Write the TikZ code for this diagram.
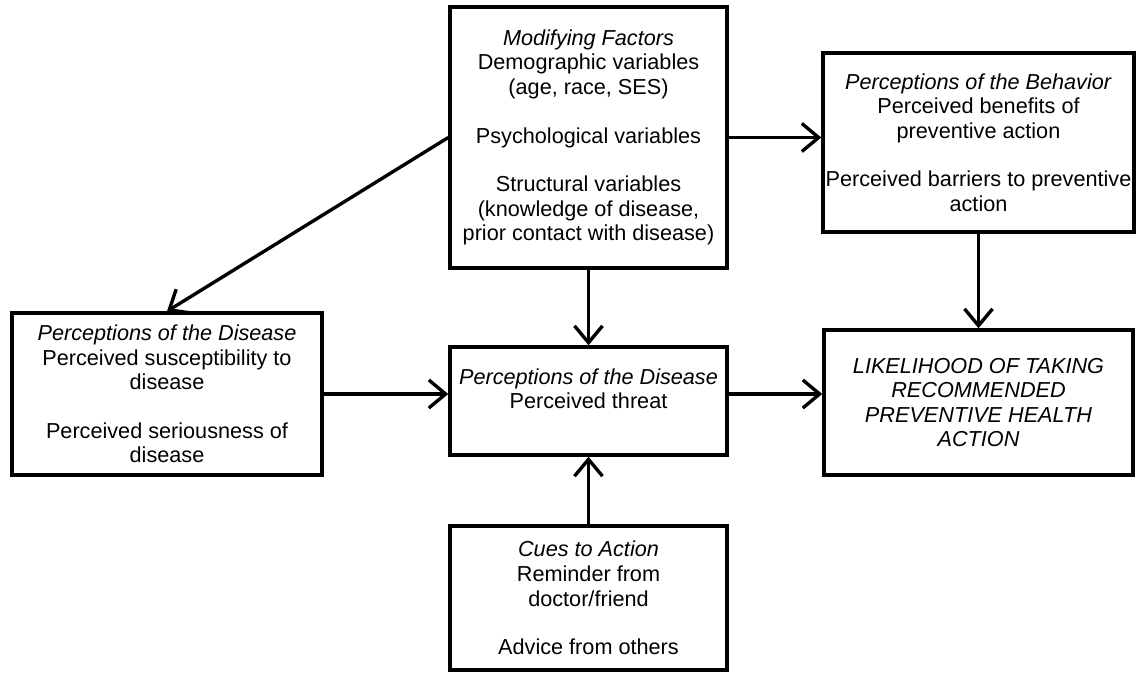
\documentclass[tikz,border=0pt]{standalone}
\usepackage{fontspec}
\setmainfont{Liberation Sans}
\usetikzlibrary{arrows.meta}

\begin{document}
\begin{tikzpicture}[x=0.025cm, y=-0.025cm,
    box/.style={draw, line width=2.4pt, align=center, inner sep=0pt, font={\fontsize{15.4}{17.5}\selectfont}},
    flow/.style={-{Straight Barb[length=0.42cm, width=0.7cm]}, line width=2.4pt}]
    \useasboundingbox (0,0) rectangle (1138,672);
    \node[box, minimum width=6.925cm, minimum height=6.525cm] (mod) at (588.5,137.5)
        {\textit{Modifying Factors}\\ Demographic variables\\ (age, race, SES)\\[17pt] Psychological variables\\[17pt] Structural variables\\ (knowledge of disease,\\ prior contact with disease)};
    \node[box, minimum width=7.775cm, minimum height=4.475cm] (beh) at (978.5,142.5)
        {\textit{Perceptions of the Behavior}\\ Perceived benefits of\\ preventive action\\[17pt] Perceived barriers to preventive\\ action};
    \node[box, minimum width=7.75cm, minimum height=4.05cm] (dis) at (167,394)
        {\textit{Perceptions of the Disease}\\ Perceived susceptibility to\\ disease\\[17pt] Perceived seriousness of\\ disease};
    \node[box, minimum width=6.925cm, minimum height=2.7cm] (thr) at (588.5,401)
        {\textit{Perceptions of the Disease}\\ Perceived threat\\ \mbox{}};
    \node[box, minimum width=7.725cm, minimum height=3.625cm] (lik) at (978.5,402.5)
        {\textit{LIKELIHOOD OF TAKING}\\ \textit{RECOMMENDED}\\ \textit{PREVENTIVE HEALTH}\\ \textit{ACTION}};
    \node[box, minimum width=6.925cm, minimum height=3.6cm] (cue) at (588.5,598)
        {\textit{Cues to Action}\\ Reminder from\\ doctor/friend\\[17pt] Advice from others};
    \draw[flow] (mod.east) -- (mod.east -| beh.west);
    \draw[flow] (mod.west) -- (dis.north);
    \draw[flow] (mod.south) -- (thr.north);
    \draw[flow] (beh.south) -- (lik.north);
    \draw[flow] (dis.east) -- (dis.east -| thr.west);
    \draw[flow] (thr.east |- dis.east) -- (dis.east -| lik.west);
    \draw[flow] (cue.north) -- (thr.south);
\end{tikzpicture}
\end{document}
